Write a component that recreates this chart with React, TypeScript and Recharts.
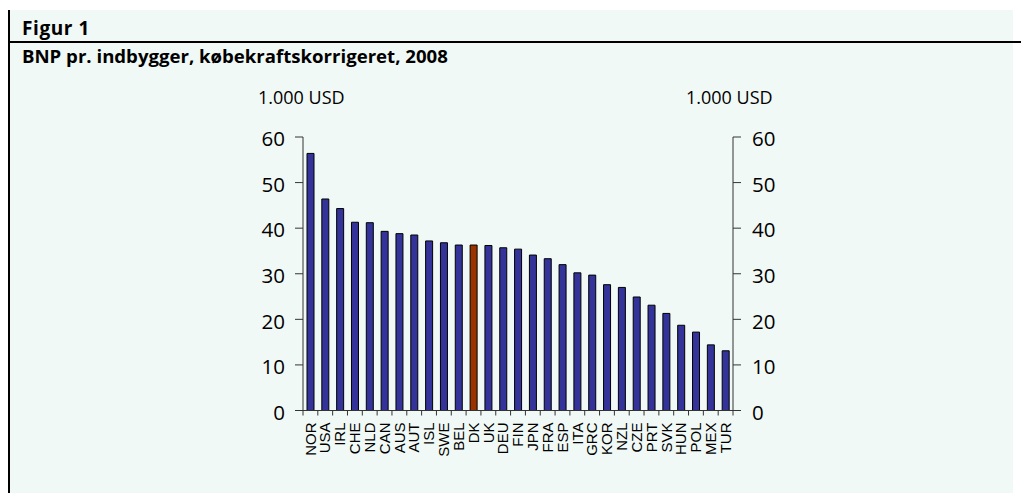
import { ComposedChart, Bar, Line, XAxis, YAxis, Cell } from 'recharts';

// Data (1.000 USD, PPP-adjusted GDP per capita, 2008)
const countries = [
  'NOR', 'USA', 'IRL', 'CHE', 'NLD', 'CAN', 'AUS', 'AUT', 'ISL', 'SWE',
  'BEL', 'DK', 'UK', 'DEU', 'FIN', 'JPN', 'FRA', 'ESP', 'ITA', 'GRC',
  'KOR', 'NZL', 'CZE', 'PRT', 'SVK', 'HUN', 'POL', 'MEX', 'TUR',
];
const gdpPerCapita = [
  56.4, 46.4, 44.3, 41.3, 41.2, 39.3, 38.8, 38.5, 37.2, 36.8,
  36.3, 36.3, 36.2, 35.7, 35.4, 34.1, 33.3, 32.0, 30.2, 29.7,
  27.6, 27.0, 24.9, 23.1, 21.3, 18.7, 17.2, 14.4, 13.1,
];
const yTicks = [0, 10, 20, 30, 40, 50, 60];
const highlight = 'DK';

const FONT = '"Open Sans", sans-serif';

const XTick = (props: any) => {
  const { x, y, payload, index } = props;
  const half = payload.offset || 7.4;
  const last = index === countries.length - 1;
  return (
    <g>
      <line x1={x - half} y1={y} x2={x - half} y2={y + 5} stroke="#333" />
      {last && <line x1={x + half} y1={y} x2={x + half} y2={y + 5} stroke="#333" />}
      <text
        x={x}
        y={y + 12}
        dy="0.35em"
        textAnchor="end"
        transform={`rotate(-90, ${x}, ${y + 12})`}
        fontFamily='"Liberation Sans", Arial, sans-serif'
        fontSize={15}
        fill="#000"
      >
        {payload.value}
      </text>
    </g>
  );
};

const App = () => {
  const data = countries.map((name, i) => ({ name, value: gdpPerCapita[i] }));

  return (
    <div style={{ position: 'absolute', left: 0, top: 0, width: 1021, height: 494, background: '#fff', fontFamily: FONT }}>
      {/* panel background */}
      <div style={{ position: 'absolute', left: 8, top: 10, width: 1005, height: 483, background: '#f1f9f6' }} />
      {/* frame lines */}
      <div style={{ position: 'absolute', left: 8, top: 10, width: 1.5, height: 483, background: '#000' }} />
      <div style={{ position: 'absolute', left: 8, top: 41, width: 1013, height: 1.5, background: '#000' }} />

      <div style={{ position: 'absolute', left: 22, top: 16, fontSize: 19, fontWeight: 700, letterSpacing: 0.6, lineHeight: '24px', color: '#000' }}>
        Figur 1
      </div>
      <div style={{ position: 'absolute', left: 22, top: 44, fontSize: 18.6, fontWeight: 700, lineHeight: '24px', color: '#000' }}>
        BNP pr. indbygger, købekraftskorrigeret, 2008
      </div>

      <div style={{ position: 'absolute', left: 258, top: 85, fontSize: 18, lineHeight: '24px', color: '#000' }}>1.000 USD</div>
      <div style={{ position: 'absolute', left: 686, top: 85, fontSize: 18, lineHeight: '24px', color: '#000' }}>1.000 USD</div>

      <div style={{ position: 'absolute', left: 0, top: 0 }}>
        <ComposedChart
          width={1021}
          height={494}
          data={data}
          barSize={7}
          margin={{ top: 137, right: 228, bottom: 23.5, left: 243 }}
        >
          <XAxis
            dataKey="name"
            interval={0}
            height={60}
            tickSize={0}
            tickMargin={0}
            tickLine={false}
            axisLine={{ stroke: '#333' }}
            tick={<XTick />}
          />
          <YAxis
            yAxisId="left"
            orientation="left"
            width={60}
            domain={[0, 60]}
            ticks={yTicks}
            tickSize={8}
            tickMargin={10}
            axisLine={{ stroke: '#333' }}
            tickLine={{ stroke: '#333' }}
            tick={{ fill: '#000', fontSize: 20.5, fontFamily: FONT, dy: 2 }}
          />
          <YAxis
            yAxisId="right"
            orientation="right"
            width={60}
            domain={[0, 60]}
            ticks={yTicks}
            tickSize={8}
            tickMargin={11}
            axisLine={{ stroke: '#333' }}
            tickLine={{ stroke: '#333' }}
            tick={{ fill: '#000', fontSize: 20.5, fontFamily: FONT, dy: 2 }}
          />
          <Bar dataKey="value" yAxisId="left" stroke="#000" strokeWidth={1} isAnimationActive={false}>
            {data.map((d) => (
              <Cell key={d.name} fill={d.name === highlight ? '#993300' : '#333399'} />
            ))}
          </Bar>
          {/* invisible series so the right-hand axis gets its ticks */}
          <Line
            dataKey="value"
            yAxisId="right"
            stroke="none"
            dot={false}
            activeDot={false}
            legendType="none"
            isAnimationActive={false}
          />
        </ComposedChart>
      </div>
    </div>
  );
};

export default App;
